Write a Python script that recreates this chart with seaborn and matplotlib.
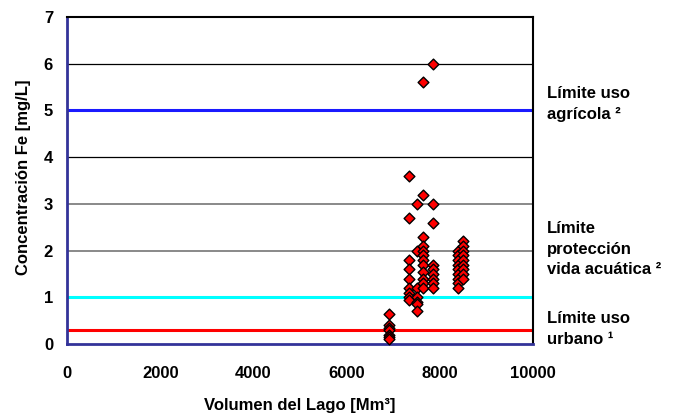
import matplotlib
matplotlib.use("Agg")
import matplotlib.pyplot as plt
import matplotlib.transforms as mtransforms
import numpy as np
import pandas as pd
import seaborn as sns

# Muestreos de hierro por volumen del lago
vol_6900 = [6900] * 7
fe_6900 = [0.65, 0.4, 0.35, 0.3, 0.2, 0.15, 0.1]

vol_7340 = [7340] * 9
fe_7340 = [3.6, 2.7, 1.8, 1.6, 1.4, 1.2, 1.1, 1.0, 0.95]

vol_7500 = [7500] * 7
fe_7500 = [3.0, 2.0, 1.2, 1.0, 0.9, 0.85, 0.7]

vol_7650 = [7650] * 12
fe_7650 = [5.6, 3.2, 2.3, 2.1, 2.0, 1.9, 1.8, 1.7, 1.55, 1.4, 1.3, 1.2]

vol_7850 = [7850] * 9
fe_7850 = [6.0, 3.0, 2.6, 1.7, 1.6, 1.5, 1.4, 1.3, 1.2]

vol_8400 = [8400] * 9
fe_8400 = [2.0, 1.9, 1.8, 1.7, 1.6, 1.5, 1.4, 1.3, 1.2]

vol_8500 = [8500] * 9
fe_8500 = [2.2, 2.1, 2.0, 1.9, 1.8, 1.7, 1.6, 1.5, 1.4]

# Límites normativos
limites = [5.0, 1.0, 0.3]
limites_colores = ["#1a1aff", "#00ffff", "#ff0000"]
limites_textos = ["Límite uso\nagrícola ²",
                  "Límite\nprotección\nvida acuática ²",
                  "Límite uso\nurbano ¹"]
limites_texto_y = [4.82, 1.50, 0.01]

x_ticks = [0, 2000, 4000, 6000, 8000, 10000]
y_ticks = [0, 1, 2, 3, 4, 5, 6, 7]

df = pd.DataFrame({
    "Volumen": vol_6900 + vol_7340 + vol_7500 + vol_7650 + vol_7850 + vol_8400 + vol_8500,
    "Fe": fe_6900 + fe_7340 + fe_7500 + fe_7650 + fe_7850 + fe_8400 + fe_8500,
})

sns.set_style("white")
plt.rcParams["font.family"] = ["Liberation Sans", "DejaVu Sans"]
plt.rcParams["font.weight"] = "bold"
plt.rcParams["text.color"] = "black"
plt.rcParams["axes.labelcolor"] = "black"
plt.rcParams["xtick.color"] = "black"
plt.rcParams["ytick.color"] = "black"

fig = plt.figure(figsize=(6.76, 4.2), dpi=100)
ax = fig.add_axes([67 / 676, 1 - 344 / 420, (533 - 67) / 676, (344 - 17) / 420])

navy = "#333399"

# Líneas horizontales de referencia
for g, c, lw in [(6, "black", 0.9), (4, "black", 0.9), (3, "#808080", 1.3), (2, "#808080", 1.3)]:
    ax.axhline(g, color=c, lw=lw, zorder=1)

for lim, col in zip(limites, limites_colores):
    ax.axhline(lim, color=col, lw=2.2, zorder=2)

sns.scatterplot(data=df, x="Volumen", y="Fe", marker="D", color="#ff0000",
                edgecolor="black", linewidth=1.0, s=30, ax=ax, zorder=3,
                clip_on=False)

ax.set_xlim(0, 10000)
ax.set_ylim(0, 7)
ax.set_xticks(x_ticks)
ax.set_yticks(y_ticks)
ax.tick_params(axis="both", direction="out", length=5, width=1.5, color=navy,
               labelsize=12, labelcolor="black")
ax.tick_params(axis="x", pad=10.5)
ax.tick_params(axis="y", pad=5)
for lab in ax.get_xticklabels() + ax.get_yticklabels():
    lab.set_fontweight("bold")

for side in ["left", "bottom"]:
    ax.spines[side].set_color(navy)
    ax.spines[side].set_linewidth(2.0)
for side in ["top", "right"]:
    ax.spines[side].set_color("black")
    ax.spines[side].set_linewidth(1.5)

ax.set_xlabel("Volumen del Lago [Mm³]", fontsize=12, fontweight="bold")
ax.set_ylabel("Concentración Fe [mg/L]", fontsize=12, fontweight="bold")
ax.xaxis.set_label_coords(0.5, -0.165)
ax.yaxis.set_label_coords(-0.078, 0.51)

trans = mtransforms.blended_transform_factory(ax.transAxes, ax.transData)
for txt, ty in zip(limites_textos, limites_texto_y):
    ax.text(1.03, ty, txt, transform=trans, ha="left", va="baseline",
            fontsize=12, fontweight="bold", linespacing=1.45)

fig.savefig("out.png", dpi=100)
